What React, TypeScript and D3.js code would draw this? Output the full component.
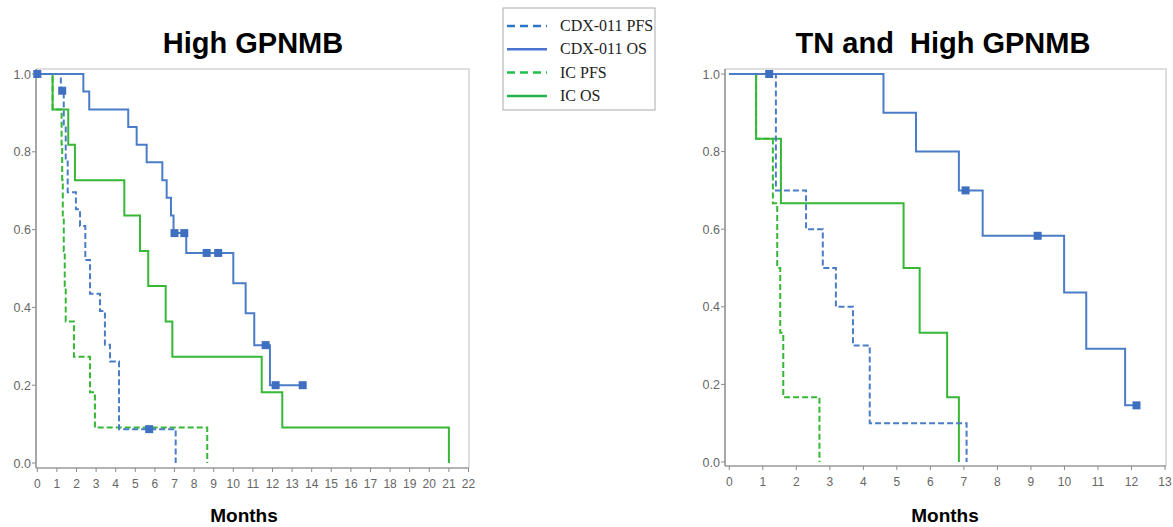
import React from 'react'
import * as d3 from 'd3'

// survival steps: [months, survival]
const highCdxPfs = [[0, 1], [1.2, 0.957], [1.35, 0.87], [1.45, 0.78], [1.55, 0.696], [1.97, 0.652], [2.18, 0.609], [2.45, 0.522], [2.69, 0.435], [3.2, 0.391], [3.45, 0.304], [3.71, 0.261], [4.17, 0.087], [7.06, 0]]
const highCdxPfsCens = [[1.27, 0.957], [5.71, 0.087]]
const highCdxOs = [[0, 1], [2.35, 0.955], [2.65, 0.909], [4.64, 0.864], [5.07, 0.818], [5.58, 0.773], [6.38, 0.727], [6.6, 0.682], [6.82, 0.636], [6.95, 0.591], [7.6, 0.54], [10.0, 0.462], [10.63, 0.385], [11.07, 0.303], [11.87, 0.2], [13.54, 0.2]]
const highCdxOsCens = [[0, 1], [7.0, 0.591], [7.5, 0.591], [8.64, 0.54], [9.23, 0.54], [11.65, 0.303], [12.16, 0.2], [13.54, 0.2]]
const highIcPfs = [[0, 1], [0.78, 0.909], [1.24, 0.818], [1.27, 0.727], [1.3, 0.636], [1.35, 0.545], [1.4, 0.455], [1.45, 0.364], [1.87, 0.273], [2.69, 0.182], [2.94, 0.091], [8.67, 0]]
const highIcOs = [[0, 1], [0.78, 0.909], [1.58, 0.818], [1.92, 0.727], [4.44, 0.636], [5.24, 0.545], [5.66, 0.455], [6.55, 0.364], [6.89, 0.273], [11.45, 0.182], [12.5, 0.091], [21, 0]]

const tnCdxPfs = [[0, 1], [1.39, 0.7], [2.29, 0.6], [2.79, 0.5], [3.18, 0.4], [3.69, 0.3], [4.19, 0.1], [7.08, 0]]
const tnCdxOs = [[0, 1], [4.6, 0.9], [5.57, 0.8], [6.85, 0.7], [7.56, 0.583], [9.99, 0.437], [10.65, 0.292], [11.81, 0.146], [12.15, 0.146]]
const tnCdxOsCens = [[1.19, 1], [7.05, 0.7], [9.2, 0.583], [12.15, 0.146]]
const tnIcPfs = [[0, 1], [0.8, 0.833], [1.3, 0.667], [1.43, 0.5], [1.52, 0.333], [1.61, 0.167], [2.69, 0]]
const tnIcOs = [[0, 1], [0.8, 0.833], [1.54, 0.667], [5.2, 0.5], [5.68, 0.333], [6.5, 0.167], [6.85, 0]]

const yTicks = [0, 0.2, 0.4, 0.6, 0.8, 1.0]
const legendLabels = ['CDX-011 PFS', 'CDX-011 OS', 'IC PFS', 'IC OS']

const BLUE = '#4a7cc8'
const GREEN = '#36b736'
const legendColors = ['#2f74c9', '#4a72d0', '#22c04a', '#22b54a']
const legendDash = [true, false, true, false]
const SANS = 'Arial, Liberation Sans, sans-serif'

function Panel(props) {
    const x = d3.scaleLinear().domain([0, props.xMax]).range(props.xRange)
    const y = d3.scaleLinear().domain([0, 1]).range(props.yRange)
    const line = d3.line().x(d => x(d[0])).y(d => y(d[1])).curve(d3.curveStepAfter)
    const [ax, ay, top, right] = props.frame
    const ticks = d3.range(0, props.xMax + 1)
    return (
        <g>
            <text x={props.titleX} y={53} textAnchor='middle' fontFamily={SANS}
                fontWeight='bold' fontSize={29}>{props.title}</text>
            {/* frame */}
            <path d={`M${ax},${top}H${right}V${ay}`} fill='none' stroke='#d4d4d4' strokeWidth={1.5} />
            <line x1={ax} x2={ax} y1={top} y2={ay} stroke='#8a8a8a' strokeWidth={1.5} />
            <line x1={ax} x2={right} y1={ay} y2={ay} stroke='#9a9a9a' strokeWidth={1.5} />
            {yTicks.map(t => (
                <g key={t}>
                    <line x1={ax - 4} x2={ax} y1={y(t)} y2={y(t)} stroke='#8a8a8a' />
                    <text x={ax - 5} y={y(t) + 4.5} textAnchor='end' fontSize={12.5} fill='#666'
                        fontFamily={SANS}>{t.toFixed(1)}</text>
                </g>
            ))}
            {ticks.map(t => (
                <g key={t}>
                    <line x1={x(t)} x2={x(t)} y1={ay} y2={ay + 4} stroke='#8a8a8a' />
                    <text x={x(t)} y={ay + 20} textAnchor='middle' fontSize={12} fill='#666'
                        fontFamily={SANS}>{t}</text>
                </g>
            ))}
            <text x={props.labelX} y={522} textAnchor='middle' fontFamily={SANS}
                fontWeight='bold' fontSize={19}>Months</text>
            {props.series.map((s, i) => (
                <path key={i} d={line(s.data)} fill='none' stroke={s.color} strokeWidth={2}
                    strokeDasharray={s.dash ? '6,3' : null} />
            ))}
            {props.censors.map((c, i) => (
                <rect key={i} x={x(c[0]) - 4} y={y(c[1]) - 4} width={8} height={8} fill='#3f6fc0' />
            ))}
        </g>
    )
}

export default function App() {
    return (
        <div style={{ position: 'absolute', left: 0, top: 0 }}>
            <svg width={1173} height={527} style={{ display: 'block', background: '#fff' }}>
                <Panel title='High GPNMB' titleX={253} labelX={244} xMax={22}
                    xRange={[37.3, 468.5]} yRange={[463, 74]} frame={[36, 468, 69, 469]}
                    series={[
                        { data: highIcOs, color: GREEN, dash: false },
                        { data: highIcPfs, color: GREEN, dash: true },
                        { data: highCdxPfs, color: BLUE, dash: true },
                        { data: highCdxOs, color: BLUE, dash: false }
                    ]}
                    censors={[...highCdxPfsCens, ...highCdxOsCens]} />
                <Panel title={'TN and\u00a0\u00a0High GPNMB'} titleX={943} labelX={945} xMax={13}
                    xRange={[729.3, 1165]} yRange={[462, 74]} frame={[725, 466, 69, 1166]}
                    series={[
                        { data: tnIcOs, color: GREEN, dash: false },
                        { data: tnIcPfs, color: GREEN, dash: true },
                        { data: tnCdxPfs, color: BLUE, dash: true },
                        { data: tnCdxOs, color: BLUE, dash: false }
                    ]}
                    censors={tnCdxOsCens} />
                {/* legend */}
                <rect x={503} y={8} width={152} height={102} fill='#fff' stroke='#aaa' strokeWidth={1} />
                {legendLabels.map((l, i) => (
                    <g key={l}>
                        <line x1={507} x2={547} y1={26 + i * 23.3} y2={26 + i * 23.3} stroke={legendColors[i]}
                            strokeWidth={2.5} strokeDasharray={legendDash[i] ? '8,5' : null} />
                        <text x={560} y={26 + i * 23.3 + 5} fontFamily='Liberation Serif, Times New Roman, serif'
                            fontSize={16} fill='#222'>{l}</text>
                    </g>
                ))}
            </svg>
        </div>
    )
}
